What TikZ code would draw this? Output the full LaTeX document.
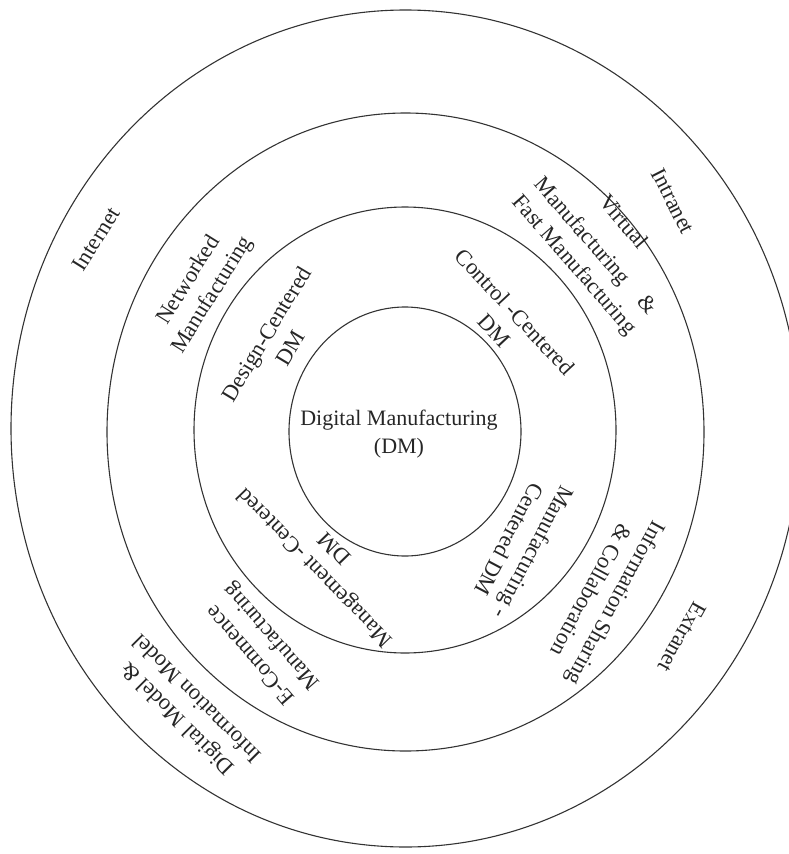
\documentclass[tikz,border=0pt]{standalone}
\usepackage{fontspec}
\setmainfont{Liberation Serif}
\begin{document}
\begin{tikzpicture}[x=1pt,y=1pt,
  ring/.style={draw=black!80, line width=1.1pt},
  lbl/.style={align=center, inner sep=0pt, text=black!85,
    font=\fontsize{22.5}{28}\selectfont}]
\useasboundingbox (0,0) rectangle (789,-854);
\clip (0,0) rectangle (789,-854);
% rings
\draw[ring] (405.5,-428.5) ellipse [x radius=394.5, y radius=418.5];
\draw[ring] (405.5,-432) ellipse [x radius=298.5, y radius=319];
\draw[ring] (405,-430) ellipse [x radius=211, y radius=223];
\draw[ring] (405,-431.5) ellipse [x radius=116, y radius=124.5];
% centre
\node[lbl, font=\fontsize{22}{28}\selectfont] (dm) at (399,-434) {Digital Manufacturing\\(DM)};
% outer ring
\node[lbl, rotate=58] (internet) at (96,-239) {Internet};
\node[lbl, rotate=-63] (intranet) at (673,-201) {Intranet};
\node[lbl, rotate=-119] (extranet) at (682,-637) {Extranet};
\node[lbl, rotate=135] (dmodel) at (186.5,-709.5) {Digital Model \&\\Information Model};
% second ring
\node[lbl, rotate=58] (netman) at (201,-288) {Networked\\Manufacturing};
\node[lbl, rotate=-49] (virtual) at (598,-244) {Virtual\\[9pt]Manufacturing\quad\&\\Fast Manufacturing};
\node[lbl, rotate=-118.5] (infoshare) at (604,-597) {Information Sharing\\\& Collaboration};
\node[lbl, rotate=131] (ecom) at (262,-645) {E-Commence\\Manufacturing};
% third ring
\node[lbl, rotate=59] (design) at (278,-341) {Design-Centered\\DM};
\node[lbl, rotate=-47] (control) at (505,-321) {Control -Centered\\DM};
\node[lbl, rotate=-118] (manuf) at (522,-546) {Manufacturing -\\Centered DM};
\node[lbl, rotate=134] (manage) at (324,-559) {Management -Centered\\DM};
\end{tikzpicture}
\end{document}
